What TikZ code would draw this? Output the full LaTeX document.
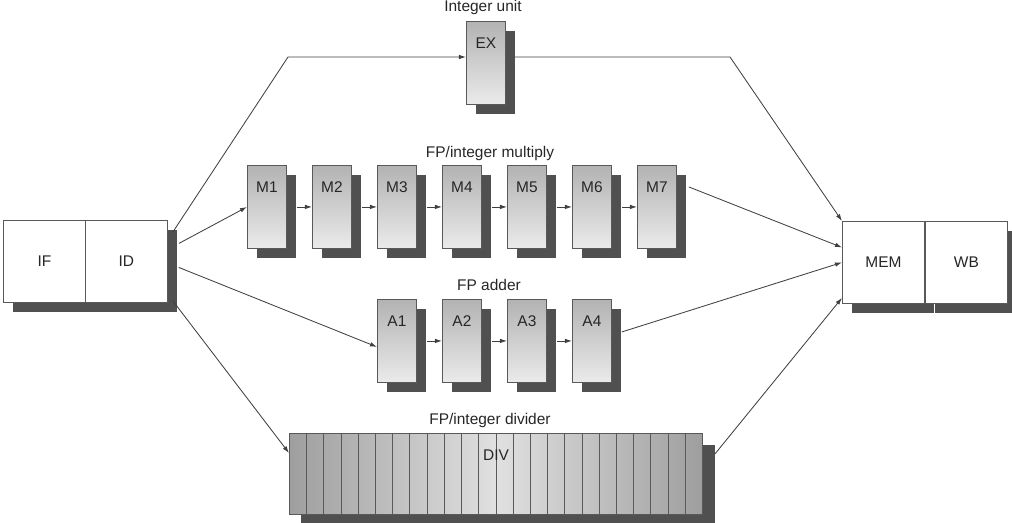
\documentclass[tikz,border=0pt]{standalone}
\usepackage{fontspec}
\setmainfont{Liberation Sans}
\usetikzlibrary{calc,shadows,arrows.meta}
\definecolor{shadowgray}{HTML}{505050}
\definecolor{linegray}{HTML}{404040}
\newcommand{\shoff}{0.25cm}

\begin{document}
\begin{tikzpicture}[x=0.025cm, y=-0.025cm, font=\fontsize{11}{13}\selectfont,
    every node/.style={text=black!85},
    lat/.style={draw=linegray, line width=.6pt, -{Latex[length=5pt,width=3.2pt]}},
    shad/.style={drop shadow={shadow xshift=\shoff, shadow yshift=-\shoff, fill=shadowgray, opacity=1}},
    latch/.style={draw=black!65, line width=.6pt, fill=white, minimum width=2.05cm, minimum height=2.05cm, anchor=north west, shad},
    unit/.style={draw=black!65, line width=.6pt, top color=black!30, bottom color=black!8, inner ysep=0pt, minimum width=0.975cm, text height=0.675cm, text depth=1.4cm, anchor=north west, shad}]
    \useasboundingbox (0,0) rectangle (1012,522);

    % pipeline registers
        \node (IF) at (3,220) [latch] {IF};
        \node (ID) at (85,220) [latch] {ID};
        \node (MEM) at (842,221) [latch] {MEM};
        \node (WB) at (925,221) [latch] {WB};

    % functional units
        \node (EX) at (466,21) [unit] {EX};
        \node (M1) at (247,165) [unit] {M1};
        \node (M2) at (312,165) [unit] {M2};
        \node (M3) at (377,165) [unit] {M3};
        \node (M4) at (442,165) [unit] {M4};
        \node (M5) at (507,165) [unit] {M5};
        \node (M6) at (572,165) [unit] {M6};
        \node (M7) at (637,165) [unit] {M7};
        \node (A1) at (377,299) [unit] {A1};
        \node (A2) at (442,299) [unit] {A2};
        \node (A3) at (507,299) [unit] {A3};
        \node (A4) at (572,299) [unit] {A4};
        \node (DIV) at (289,433) [draw=black!65, line width=.6pt, left color=black!38, right color=black!38, middle color=black!12,
            minimum width=10.325cm, inner ysep=0pt, text height=0.675cm, text depth=1.35cm, anchor=north west,
            drop shadow={shadow xshift=0.3cm, shadow yshift=-0.3cm, fill=shadowgray, opacity=1},
            path picture={\foreach \k in {1,...,23}
                \draw[black!65, line width=.6pt] ($(path picture bounding box.north west)+(\k*17.208,0)$) -- ($(path picture bounding box.south west)+(\k*17.208,0)$);}] {DIV};

    % unit names
        \node (intlbl) at (483,11) [anchor=base] {Integer unit};
        \node (mullbl) at (490,157) [anchor=base] {FP/integer multiply};
        \node (addlbl) at (489,290) [anchor=base] {FP adder};
        \node (divlbl) at (490,424) [anchor=base] {FP/integer divider};

    % issue
        \coordinate (exin) at (288,57);
        \coordinate (exout) at (730,57);
        \draw[lat] ($(ID.north east)+(5,12)$) -- (exin) -- (EX.west |- exin);
        \draw[lat] ($(ID.east)+(11,-18)$) -- (M1.west);
        \draw[lat] ($(ID.east)+(11,6)$) -- ($(A1.west)+(0,6)$);
        \draw[lat] ($(ID.south east)+(5,-2)$) -- ($(DIV.north west)+(0,20)$);

    % stages
        \draw[lat] ($(M1.east)+(10,0)$) -- (M2.west);
        \draw[lat] ($(M2.east)+(10,0)$) -- (M3.west);
        \draw[lat] ($(M3.east)+(10,0)$) -- (M4.west);
        \draw[lat] ($(M4.east)+(10,0)$) -- (M5.west);
        \draw[lat] ($(M5.east)+(10,0)$) -- (M6.west);
        \draw[lat] ($(M6.east)+(10,0)$) -- (M7.west);
        \draw[lat] ($(A1.east)+(10,0)$) -- (A2.west);
        \draw[lat] ($(A2.east)+(10,0)$) -- (A3.west);
        \draw[lat] ($(A3.east)+(10,0)$) -- (A4.west);

    % completion
        \draw[lat] ($(EX.east |- exout)+(9,0)$) -- (exout) -- (MEM.north west);
        \draw[lat] ($(M7.east)+(12,-20)$) -- ($(MEM.west)+(0,-15)$);
        \draw[lat] ($(A4.east)+(10,-9)$) -- (MEM.west);
        \draw[lat] ($(DIV.east)+(12,-20)$) -- ($(MEM.south west)+(0,-6)$);

\end{tikzpicture}
\end{document}
